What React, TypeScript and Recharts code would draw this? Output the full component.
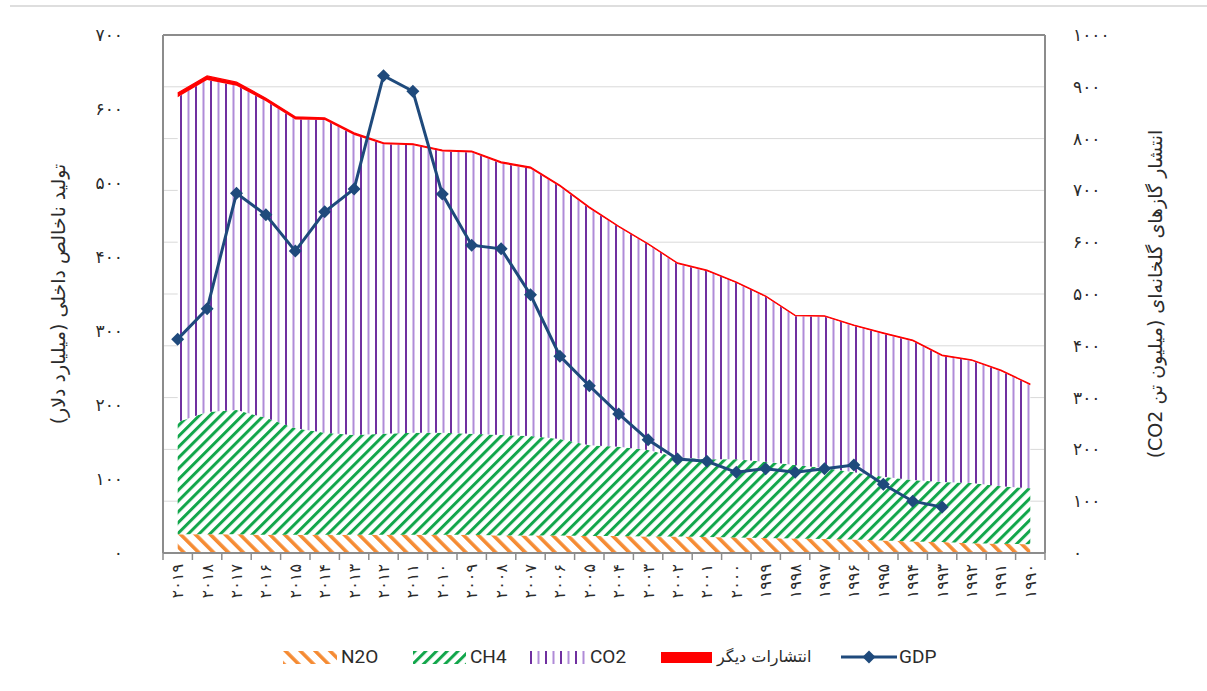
import React from "react";
import {
  ComposedChart,
  Area,
  Line,
  XAxis,
  YAxis,
  CartesianGrid,
  ReferenceLine,
} from "recharts";

// years run right-to-left on the axis, newest first
const years = [
  "2019", "2018", "2017", "2016", "2015", "2014", "2013", "2012", "2011", "2010",
  "2009", "2008", "2007", "2006", "2005", "2004", "2003", "2002", "2001", "2000",
  "1999", "1998", "1997", "1996", "1995", "1994", "1993", "1992", "1991", "1990",
];

// emissions, million tonnes CO2-eq (right axis)
const n2o = [36, 36, 36, 35, 35, 35, 35, 35, 35, 35, 35, 34, 34, 34, 33, 33, 32, 32, 31, 30, 29, 28, 27, 26, 24, 22, 21, 19, 18, 17];
const ch4 = [217, 236, 240, 226, 206, 197, 193, 195, 197, 197, 195, 194, 192, 186, 175, 172, 167, 153, 150, 151, 147, 142, 137, 130, 123, 119, 116, 116, 111, 108];
const co2 = [627, 641, 626, 611, 596, 604, 579, 559, 555, 543, 543, 524, 516, 487, 457, 424, 396, 373, 363, 340, 318, 287, 292, 282, 276, 268, 243, 236, 222, 199];
const other = [8, 8, 7, 6, 5, 4, 4, 3, 3, 3, 3, 3, 3, 3, 3, 2, 2, 2, 2, 2, 2, 2, 2, 2, 2, 2, 2, 2, 2, 2];

// GDP, billion dollars (left axis)
const gdp = [289, 330, 486, 457, 408, 461, 492, 645, 624, 485, 416, 411, 349, 266, 226, 188, 153, 127, 124, 109, 114, 109, 114, 119, 93, 70, 62, null, null, null];

const leftTicks = [0, 100, 200, 300, 400, 500, 600, 700];
const rightTicks = [0, 100, 200, 300, 400, 500, 600, 700, 800, 900, 1000];

const leftTitle = "تولید ناخالص داخلی (میلیارد دلار)";
const rightTitle = "انتشار گازهای گلخانه‌ای (میلیون تن CO2)";
const otherLabel = "انتشارات دیگر";

const data = years.map((y, i) => ({
  year: y,
  n2o: n2o[i],
  ch4: ch4[i],
  co2: co2[i],
  other: other[i],
  gdp: gdp[i],
}));

const FA_DIGITS = "۰۱۲۳۴۵۶۷۸۹";
const toFa = (v: string | number) => String(v).replace(/\d/g, (d) => FA_DIGITS[+d]);

const W = 1207;
const H = 610;
const PLOT_LEFT = 163;
const PLOT_RIGHT = 1045;
const PLOT_TOP = 35;
const PLOT_BOTTOM = 553;
const BAND = (PLOT_RIGHT - PLOT_LEFT) / years.length;

const AXIS_COLOR = "#8c8c8c";
const GDP_COLOR = "#1F4A7C";
const TEXT_COLOR = "#2b2b2b";
const FA_FONT = "'DejaVu Sans', sans-serif";
const LEGEND_FONT = "'Liberation Sans Narrow', Roboto, 'Liberation Sans', sans-serif";

const YearTick = (props: any) => {
  const { x, y, payload, index } = props;
  const last = index === years.length - 1;
  return (
    <g>
      <line x1={x - BAND / 2} y1={y} x2={x - BAND / 2} y2={y + 7} stroke={AXIS_COLOR} strokeWidth={1.5} />
      {last && (
        <line x1={x + BAND / 2} y1={y} x2={x + BAND / 2} y2={y + 7} stroke={AXIS_COLOR} strokeWidth={1.5} />
      )}
      <text
        x={x}
        y={y + 11}
        transform={`rotate(-90 ${x} ${y + 11})`}
        textAnchor="end"
        dominantBaseline="central"
        fontSize={16}
        letterSpacing={2.5}
        fontFamily={FA_FONT}
        fill={TEXT_COLOR}
      >
        {toFa(payload.value)}
      </text>
    </g>
  );
};

const Diamond = (props: any) => {
  const { cx, cy, value, index } = props;
  if (cx == null || cy == null || value == null) return <g key={`d${index}`} />;
  const r = 6.5;
  return (
    <path
      key={`d${index}`}
      d={`M${cx},${cy - r} L${cx + r},${cy} L${cx},${cy + r} L${cx - r},${cy} Z`}
      fill={GDP_COLOR}
    />
  );
};

const AxisTitle = (dx: number, text: string) => (props: any) => {
  const vb = props.viewBox;
  const x = vb.x + dx;
  const y = PLOT_TOP + (PLOT_BOTTOM - PLOT_TOP) / 2;
  return (
    <text
      x={x}
      y={y}
      transform={`rotate(-90 ${x} ${y})`}
      textAnchor="middle"
      dominantBaseline="central"
      direction="rtl"
      fontSize={19}
      fontFamily={FA_FONT}
      fill={TEXT_COLOR}
    >
      {text}
    </text>
  );
};

function Patterns() {
  return (
    <svg width={0} height={0} style={{ position: "absolute" }}>
      <defs>
        <pattern id="n2oHatch" patternUnits="userSpaceOnUse" width={10.5} height={10.5} patternTransform="rotate(-45)">
          <rect width={10.5} height={10.5} fill="#fff" />
          <rect width={3.6} height={10.5} fill="#F58B33" />
        </pattern>
        <pattern id="ch4Hatch" patternUnits="userSpaceOnUse" width={7.6} height={7.6} patternTransform="rotate(45)">
          <rect width={7.6} height={7.6} fill="#fff" />
          <rect width={3} height={7.6} fill="#12A64B" />
        </pattern>
        <pattern id="co2Stripes" patternUnits="userSpaceOnUse" width={15} height={10}>
          <rect width={15} height={10} fill="#fff" />
          <rect x={0} width={2} height={10} fill="#7030A0" />
          <rect x={7.5} width={2} height={10} fill="#B08BD8" />
        </pattern>
      </defs>
    </svg>
  );
}

const LEGEND_Y = 657;

function Swatch({ left, width, height, children }: { left: number; width: number; height: number; children: React.ReactNode }) {
  return (
    <svg width={width} height={height} style={{ position: "absolute", left, top: LEGEND_Y - height / 2 }}>
      {children}
    </svg>
  );
}

function LegendText({ left, text, rtl }: { left: number; text: string; rtl?: boolean }) {
  return (
    <span
      style={{
        position: "absolute",
        left,
        top: LEGEND_Y - 12,
        height: 24,
        lineHeight: "24px",
        whiteSpace: "nowrap",
        fontSize: rtl ? 16 : 19,
        fontFamily: rtl ? FA_FONT : LEGEND_FONT,
        color: TEXT_COLOR,
        direction: rtl ? "rtl" : "ltr",
      }}
    >
      {text}
    </span>
  );
}

function ChartLegend() {
  return (
    <>
      <Swatch left={283} width={54} height={13}>
        <rect width={54} height={13} fill="url(#n2oHatch)" />
      </Swatch>
      <LegendText left={341} text="N2O" />
      <Swatch left={413} width={53} height={13}>
        <rect width={53} height={13} fill="url(#ch4Hatch)" />
      </Swatch>
      <LegendText left={470} text="CH4" />
      <Swatch left={530} width={57} height={13}>
        <rect width={57} height={13} fill="url(#co2Stripes)" />
      </Swatch>
      <LegendText left={590} text="CO2" />
      <Swatch left={661} width={51} height={11}>
        <rect width={51} height={11} fill="#FF0000" />
      </Swatch>
      <LegendText left={717} text={otherLabel} rtl />
      <Swatch left={841} width={56} height={14}>
        <line x1={0} y1={7} x2={56} y2={7} stroke={GDP_COLOR} strokeWidth={3} />
        <path d="M28,0.5 L34.5,7 L28,13.5 L21.5,7 Z" fill={GDP_COLOR} />
      </Swatch>
      <LegendText left={899} text="GDP" />
    </>
  );
}

export default function App() {
  return (
    <div style={{ position: "absolute", left: 0, top: 0, width: W, height: 691, background: "#fff" }}>
      <Patterns />
      <div style={{ position: "absolute", left: 10, top: 5, width: W - 10, height: 1.5, background: "#dedede" }} />
      <ComposedChart
        width={W}
        height={H}
        data={data}
        margin={{ top: PLOT_TOP, right: 0, left: 0, bottom: 0 }}
      >
        <CartesianGrid yAxisId="right" vertical={false} stroke="#d9d9d9" strokeWidth={1} />
        <XAxis
          dataKey="year"
          interval={0}
          height={H - PLOT_BOTTOM}
          padding={{ left: BAND / 2, right: BAND / 2 }}
          tickSize={0}
          tickMargin={0}
          tickLine={false}
          axisLine={{ stroke: AXIS_COLOR, strokeWidth: 2 }}
          tick={<YearTick />}
        />
        <YAxis
          yAxisId="left"
          orientation="left"
          width={PLOT_LEFT}
          domain={[0, 700]}
          ticks={leftTicks}
          interval={0}
          tickSize={0}
          tickMargin={40}
          tickLine={false}
          axisLine={{ stroke: AXIS_COLOR, strokeWidth: 2 }}
          tickFormatter={(v: number) => toFa(v)}
          tick={{ fontSize: 17, fill: TEXT_COLOR, fontFamily: FA_FONT, letterSpacing: 3.5 }}
          label={{ content: AxisTitle(58, leftTitle) }}
        />
        <YAxis
          yAxisId="right"
          orientation="right"
          width={W - PLOT_RIGHT}
          domain={[0, 1000]}
          ticks={rightTicks}
          interval={0}
          tickSize={0}
          tickMargin={28}
          tickLine={false}
          axisLine={{ stroke: AXIS_COLOR, strokeWidth: 2 }}
          tickFormatter={(v: number) => toFa(v)}
          tick={{ fontSize: 17, fill: TEXT_COLOR, fontFamily: FA_FONT, letterSpacing: 3.5 }}
          label={{ content: AxisTitle(110, rightTitle) }}
        />
        <Area
          yAxisId="right"
          type="linear"
          dataKey="n2o"
          stackId="em"
          stroke="none"
          fill="url(#n2oHatch)"
          fillOpacity={1}
          isAnimationActive={false}
        />
        <Area
          yAxisId="right"
          type="linear"
          dataKey="ch4"
          stackId="em"
          stroke="none"
          fill="url(#ch4Hatch)"
          fillOpacity={1}
          isAnimationActive={false}
        />
        <Area
          yAxisId="right"
          type="linear"
          dataKey="co2"
          stackId="em"
          stroke="none"
          fill="url(#co2Stripes)"
          fillOpacity={1}
          isAnimationActive={false}
        />
        <Area
          yAxisId="right"
          type="linear"
          dataKey="other"
          stackId="em"
          stroke="#FF0000"
          strokeWidth={1.2}
          fill="#FF0000"
          fillOpacity={1}
          isAnimationActive={false}
        />
        <ReferenceLine yAxisId="right" y={1000} stroke={AXIS_COLOR} strokeWidth={2} />
        <Line
          yAxisId="left"
          type="linear"
          dataKey="gdp"
          stroke={GDP_COLOR}
          strokeWidth={3}
          dot={Diamond}
          activeDot={false}
          isAnimationActive={false}
        />
      </ComposedChart>
      <ChartLegend />
    </div>
  );
}
